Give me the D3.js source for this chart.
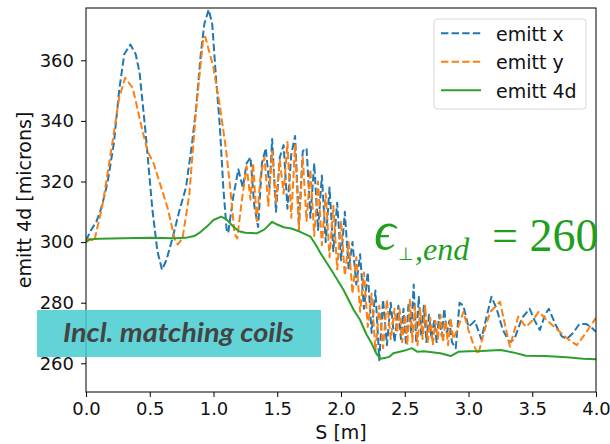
<!DOCTYPE html>
<html><head><meta charset="utf-8">
<script src="https://cdn.jsdelivr.net/npm/d3@7/dist/d3.min.js"></script>
<style>body{margin:0;background:#fff}svg{display:block}</style>
</head><body>
<svg id="c" width="610" height="444"></svg>
<script>
// ---- data ----
const xTicks = [0.0, 0.5, 1.0, 1.5, 2.0, 2.5, 3.0, 3.5, 4.0];
const yTicks = [260, 280, 300, 320, 340, 360];
const seriesNames = ["emitt x", "emitt y", "emitt 4d"];

const sX = [0,0.04,0.084,0.118,0.149,0.17,0.22,0.26,0.3,0.348,0.39,0.42,0.47,0.52,0.56,0.596,0.63,0.68,0.73,0.784,0.83,0.863,0.9,0.928,0.962,0.99,1.02,1.05,1.077,1.103,1.115,1.155,
 1.195,1.23,1.26,1.29,1.32,1.35,1.38,1.41,1.44,1.46,1.49,1.52,1.55,1.58,1.61,1.64,1.67,1.70,1.73,1.76,1.79,1.82,1.85,1.88,1.91,1.94,1.97,2.00,2.03,2.06,2.09,2.12,2.15,2.18,2.21,2.24,2.27,2.30,2.33,2.36,2.39,2.42,
 2.45,2.47,2.49,2.51,2.53,2.55,2.57,2.59,2.61,2.63,2.65,2.67,2.69,2.71,2.73,2.75,2.77,2.79,2.81,2.83,2.85,2.87,2.90,2.93,2.96,
 3.00,3.05,3.10,3.14,3.18,3.22,3.27,3.32,3.36,3.42,3.48,3.52,3.56,3.60,3.63,3.68,3.73,3.77,3.82,3.87,3.92,3.96,4.00];
const emittX = [300.5,304,307,311,316,320,333,350,362,365.2,362,356,335,311,297,290.9,294,301.5,310,318,332,344,362,372,376.7,372,354,338,318,304,303,315,
 324,318,326,328,312,305,326,331,318,334,310,328,332,311,329,335,306,330,331,308,326,304,322,300,318,297,313,294,310,291,300,286,296,278,290,270,284,261,281,266,280,267,
 279,268,278,266,280,270,286,267,282,269,279,267,276,268,274,267,276,269,278,270,274,267,265,280,279,
 272,274,268,275,282,278,271,267,268,275,278,274,271,276,278,273,269,268,270,273,273,272,270.4];

const sY = [0,0.03,0.065,0.13,0.209,0.26,0.307,0.366,0.444,0.483,0.53,0.575,0.64,0.7,0.719,0.757,0.81,0.864,0.92,0.935,0.998,1.05,1.1,1.13,1.165,1.186,
 1.22,1.26,1.29,1.31,1.34,1.37,1.40,1.43,1.46,1.49,1.52,1.55,1.58,1.61,1.64,1.67,1.70,1.73,1.76,1.79,1.82,1.85,1.88,1.91,1.94,1.97,2.00,2.03,2.06,2.09,2.12,2.15,2.18,2.21,2.24,2.27,2.30,2.33,2.36,2.39,2.42,
 2.44,2.46,2.48,2.50,2.52,2.54,2.56,2.58,2.60,2.62,2.64,2.66,2.68,2.70,2.72,2.74,2.76,2.78,2.80,2.82,2.84,2.86,2.88,2.92,2.96,
 3.00,3.04,3.077,3.12,3.17,3.247,3.29,3.325,3.39,3.45,3.51,3.55,3.62,3.70,3.78,3.85,3.92,4.00];
const emittY = [300.8,301,300.3,312.3,333.3,347.6,354.2,350.9,336.6,330,326,320,311.3,300.3,299.2,301.3,315.6,344,367.4,367.8,357.9,345,330,318.3,302.9,301.2,
 313,325,314,326,307,322,328,312,330,313,327,316,333,308,332,304,328,307,324,302,320,299,316,295,312,291,307,289,300,283,295,277,290,272,283,264,279,265,281,268,278,
 270,278,267,276,266,281,267,279,266,278,268,279,267,275,266,274,268,276,267,274,266,275,268,272,277,
 271,266,263,270,277,280.3,272,265.5,275.4,272,274.5,277,274,271,268,266,270,275];

const s4d = [0,0.03,0.1,0.3,0.5,0.7,0.78,0.85,0.9,0.95,1.0,1.06,1.1,1.155,1.2,1.25,1.34,1.4,1.46,1.5,1.55,1.61,1.68,1.76,1.8,1.84,1.89,1.94,2.02,2.1,2.15,2.2,2.24,2.28,2.31,2.35,2.38,2.41,2.46,2.5,2.555,2.6,2.65,2.78,2.86,2.92,3.0,3.1,3.25,3.35,3.45,3.6,3.77,3.9,4.0];
const emitt4d = [300.0,300.9,301.1,301.3,301.4,301.3,301.4,302.0,303.4,305.2,307.3,308.4,307.6,305.1,303.6,303.1,302.9,304.2,306.7,305.8,304.9,304.5,303.4,301.8,299.3,296.3,293.0,289.7,284.2,277.6,274.3,269.5,266.6,263.0,261.5,261.8,262.2,263.3,263.8,264.2,265.0,263.8,264.0,263.3,262.4,263.8,264.0,264.1,264.4,263.6,262.5,262.4,262.0,261.5,261.3];

// ---- layout ----
const svg = d3.select("#c");
const L = 86, R = 596, T = 8, B = 392;
const x = d3.scaleLinear().domain([0, 4]).range([L, R]);
const y = d3.scaleLinear().domain([250.53, 377.26]).range([B, T]);
const colors = ["#1f77b4", "#ff7f0e", "#2ca02c"];

svg.append("clipPath").attr("id", "clip").append("rect")
  .attr("x", L).attr("y", T).attr("width", R - L).attr("height", B - T);

const line = d3.line().x(d => x(d[0])).y(d => y(d[1]));
const data = [
  d3.zip(sX, emittX),
  d3.zip(sY, emittY),
  d3.zip(s4d, emitt4d)
];
const g = svg.append("g").attr("clip-path", "url(#clip)");
data.forEach((d, i) => {
  g.append("path").datum(d).attr("d", line)
    .attr("fill", "none").attr("stroke", colors[i])
    .attr("stroke-width", 2)
    .attr("stroke-dasharray", i < 2 ? "7.4,3.2" : null)
    .attr("stroke-linejoin", "round");
});

// axes
const fontTick = "DejaVu Sans, sans-serif";
const xa = svg.append("g").attr("transform", `translate(0,${B})`)
  .call(d3.axisBottom(x).tickValues(xTicks).tickFormat(d3.format(".1f")).tickSize(5).tickPadding(5));
const ya = svg.append("g").attr("transform", `translate(${L},0)`)
  .call(d3.axisLeft(y).tickValues(yTicks).tickSize(5).tickPadding(7));
[xa, ya].forEach(a => {
  a.select(".domain").remove();
  a.selectAll("line").attr("stroke", "#000").attr("stroke-width", 1);
  a.selectAll("text").attr("font-family", fontTick).attr("font-size", 18).attr("fill", "#111");
});
// frame
svg.append("rect").attr("x", L).attr("y", T).attr("width", R - L).attr("height", B - T)
  .attr("fill", "none").attr("stroke", "#000").attr("stroke-width", 1);

// labels
svg.append("text").attr("x", (L + R) / 2).attr("y", 439).attr("text-anchor", "middle")
  .attr("font-family", fontTick).attr("font-size", 19).attr("fill", "#111").text("S [m]");
svg.append("text").attr("transform", `translate(31,${(T + B) / 2}) rotate(-90)`).attr("text-anchor", "middle")
  .attr("font-family", fontTick).attr("font-size", 19).attr("fill", "#111").text("emitt 4d [microns]");

// legend
const lg = svg.append("g");
lg.append("rect").attr("x", 434).attr("y", 19).attr("width", 152).attr("height", 90).attr("rx", 3)
  .attr("fill", "#fff").attr("fill-opacity", 0.8).attr("stroke", "#d6d6d6");
seriesNames.forEach((n, i) => {
  const yy = 33.3 + i * 28.5;
  lg.append("line").attr("x1", 441).attr("x2", 481).attr("y1", yy).attr("y2", yy)
    .attr("stroke", colors[i]).attr("stroke-width", 2)
    .attr("stroke-dasharray", i < 2 ? "7.4,3.2" : null);
  lg.append("text").attr("x", 496).attr("y", yy + 7.5)
    .attr("font-family", fontTick).attr("font-size", 19).attr("fill", "#111").text(n);
});

// annotation box
svg.append("rect").attr("x", 37).attr("y", 310).attr("width", 284).attr("height", 47)
  .attr("fill", "#46cdd1").attr("fill-opacity", 0.85);
svg.append("text").attr("x", 63).attr("y", 342).attr("textLength", 231).attr("lengthAdjust", "spacingAndGlyphs")
  .attr("font-family", "Lato, Open Sans, sans-serif").attr("font-weight", "bold").attr("font-style", "italic")
  .attr("font-size", 26).attr("fill", "#444").text("Incl. matching coils");

// epsilon annotation
const et = svg.append("text").attr("x", 374).attr("y", 249).attr("fill", "#1ea01e")
  .attr("font-family", "Liberation Serif, DejaVu Serif, serif").attr("font-size", 46);
et.append("tspan").attr("font-style", "italic").attr("font-size", 54).text("\u03f5");
et.append("tspan").attr("x", 398).attr("dy", 11).attr("font-size", 18).attr("font-family", "DejaVu Sans").text("\u22a5");
et.append("tspan").attr("x", 415).attr("font-size", 32).attr("font-style", "italic").text(",end");
et.append("tspan").attr("x", 492).attr("dy", -9).text("= 260");
</script>
</body></html>
